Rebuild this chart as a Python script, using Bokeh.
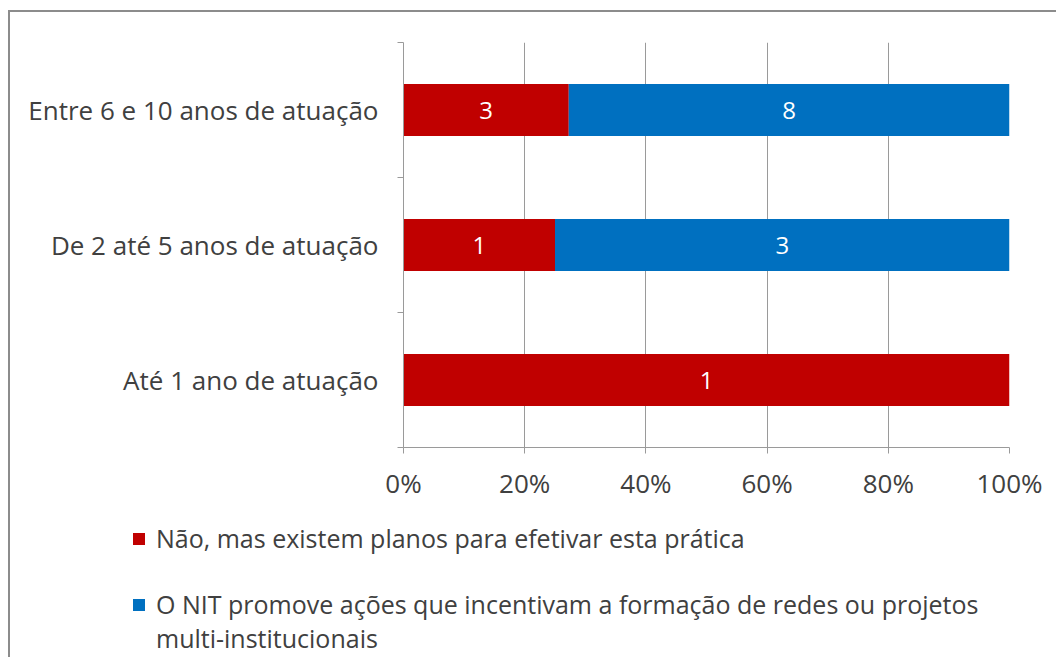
from bokeh.plotting import figure
from bokeh.layouts import column
from bokeh.models import (ColumnDataSource, Legend, LegendItem, FixedTicker,
                          NumeralTickFormatter, Range1d)
from bokeh.core.properties import value
from bokeh.embed import file_html
from bokeh.resources import INLINE

# ---- data ----
categories = ["Até 1 ano de atuação", "De 2 até 5 anos de atuação", "Entre 6 e 10 anos de atuação"]
nao_planos = [1, 1, 3]
nit_promove = [0, 3, 8]
series_names = ["Não, mas existem planos para efetivar esta prática",
                "O NIT promove ações que incentivam a formação de redes ou projetos",
                "multi-institucionais"]
x_tick_values = [0, 0.2, 0.4, 0.6, 0.8, 1.0]

RED = "#C00000"
BLUE = "#0070C0"
GRAY_TXT = "#404040"
AXIS = "#9a9a9a"
FONT = "Open Sans"
FS = "26px"

n = len(categories)
ypos = [i + 0.5 for i in range(n)]
tot = [a + b for a, b in zip(nao_planos, nit_promove)]
s_red = [a / t for a, t in zip(nao_planos, tot)]
s_blue = [b / t for b, t in zip(nit_promove, tot)]

src = ColumnDataSource(dict(y=ypos, red_end=s_red,
                            blue_end=[r + b for r, b in zip(s_red, s_blue)]))

W = 1046
p = figure(width=W, height=495, x_range=Range1d(0, 1), y_range=Range1d(0, n),
           output_backend="svg", toolbar_location=None,
           min_border_left=393, min_border_right=W - 999, min_border_top=30, min_border_bottom=60)
p.outline_line_color = None
p.frame_align = False

p.hbar(y="y", left=0, right="red_end", height=0.385, source=src,
       fill_color=RED, line_color=None)
p.hbar(y="y", left="red_end", right="blue_end", height=0.385, source=src,
       fill_color=BLUE, line_color=None)

# value labels
lx, ly, lt = [], [], []
for i in range(n):
    if nao_planos[i] > 0:
        lx.append(s_red[i] / 2); ly.append(ypos[i]); lt.append(str(nao_planos[i]))
    if nit_promove[i] > 0:
        lx.append(s_red[i] + s_blue[i] / 2); ly.append(ypos[i]); lt.append(str(nit_promove[i]))
p.text(x=lx, y=ly, text=lt, text_color="white", text_font=value(FONT),
       text_font_size="24px", text_align="center", text_baseline="middle")

# axes
p.xaxis.ticker = FixedTicker(ticks=x_tick_values)
p.xaxis.formatter = NumeralTickFormatter(format="0%")
p.xaxis.axis_line_color = AXIS
p.xaxis.major_tick_line_color = AXIS
p.xaxis.major_tick_out = 6
p.xaxis.major_tick_in = 0
p.xaxis.minor_tick_line_color = None
p.xaxis.major_label_standoff = 11
p.xaxis.major_label_text_font = FONT
p.xaxis.major_label_text_font_size = FS
p.xaxis.major_label_text_color = GRAY_TXT

p.yaxis.ticker = FixedTicker(ticks=ypos, minor_ticks=list(range(n + 1)))
p.yaxis.major_label_overrides = {y: c for y, c in zip(ypos, categories)}
p.yaxis.axis_line_color = AXIS
p.yaxis.major_tick_line_color = None
p.yaxis.minor_tick_line_color = AXIS
p.yaxis.minor_tick_out = 6
p.yaxis.minor_tick_in = 0
p.yaxis.major_label_standoff = 19
p.yaxis.major_label_text_font = FONT
p.yaxis.major_label_text_font_size = FS
p.yaxis.major_label_text_color = GRAY_TXT

p.ygrid.visible = False
p.xgrid.ticker = FixedTicker(ticks=x_tick_values)
p.xgrid.grid_line_color = AXIS

# ---- legend panel ----
lf = figure(width=W, height=150, x_range=Range1d(0, 1), y_range=Range1d(0, 1),
            output_backend="svg", toolbar_location=None,
            x_axis_location=None, y_axis_location=None,
            min_border_left=0, min_border_right=0, min_border_top=0, min_border_bottom=0)
lf.outline_line_color = None
lf.frame_align = False
lf.grid.visible = False
# off-screen dummy rows so that the legend swatches get their colours
g_red = lf.hbar(y=[-10], left=[0], right=[1], height=0.5, fill_color=RED, line_color=None)
g_blue = lf.hbar(y=[-10], left=[0], right=[1], height=0.5, fill_color=BLUE, line_color=None)
g_none = lf.hbar(y=[-10], left=[0], right=[1], height=0.5, fill_alpha=0, line_alpha=0)

common = dict(padding=0, margin=0, border_line_color=None, background_fill_alpha=0,
              label_text_font=FONT, label_text_font_size="25px", label_text_color=GRAY_TXT,
              glyph_width=15, glyph_height=15, label_standoff=10, spacing=0,
              label_height=34)
for name, rend, vy in [(series_names[0], g_red, 102),
                       (series_names[1], g_blue, 36),
                       (series_names[2], g_none, 2)]:
    lf.add_layout(Legend(items=[LegendItem(label=name, renderers=[rend])],
                         location=(121, vy), **common))

layout = column(p, lf, spacing=0, margin=(10, 0, 0, 8),
                styles={"border-left": "2px solid #8c8c8c", "border-top": "2px solid #8c8c8c"})

open("out.html", "w").write(file_html(layout, INLINE))
